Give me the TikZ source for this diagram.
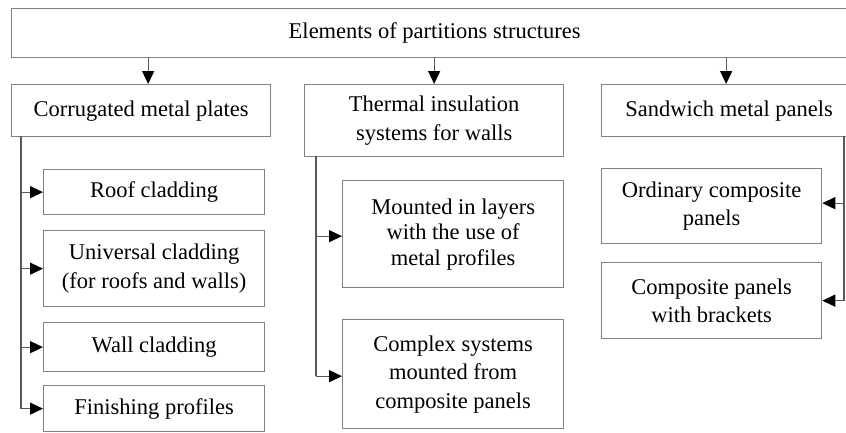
\documentclass[tikz,border=0pt]{standalone}
\usepackage{fontspec}
\setmainfont{Liberation Serif}
\usetikzlibrary{arrows.meta}

\begin{document}
\begin{tikzpicture}[x=1pt, y=-1pt, >={Triangle[length=13pt,width=12pt,color=black]},
  box/.style={draw=black!50, line width=1.3pt, anchor=north west, inner sep=0pt, align=center, font=\fontsize{22.5}{28.5}\selectfont},
  link/.style={draw=black!65, line width=1.3pt}]
  \useasboundingbox (0,0) rectangle (846,432);
  \clip (0,0) rectangle (846,432);
  \node[box, minimum width=846pt, minimum height=49pt] (elem) at (11,8) {Elements of partitions structures};
  % main groups
  \node[box, minimum width=259pt, minimum height=52pt] (corr) at (11,84) {Corrugated metal plates};
  \node[box, minimum width=259pt, minimum height=72pt] (therm) at (304,84) {Thermal insulation\\systems for walls};
  \node[box, minimum width=255pt, minimum height=52pt] (sand) at (601,84) {Sandwich metal panels};
  % corrugated metal plates
  \node[box, minimum width=221pt, minimum height=45pt] (roof) at (43,169) {Roof cladding};
  \node[box, minimum width=221pt, minimum height=76pt] (univ) at (43,230) {Universal cladding\\(for roofs and walls)};
  \node[box, minimum width=221pt, minimum height=49pt] (wall) at (43,322) {Wall cladding};
  \node[box, minimum width=221pt, minimum height=46pt] (fin) at (43,385) {Finishing profiles};
  % thermal insulation
  \node[box, minimum width=221pt, minimum height=107pt] (mount) at (342,180) {Mounted in layers\\[-3pt]with the use of\\[-3pt]metal profiles};
  \node[box, minimum width=221pt, minimum height=109pt] (cplx) at (342,319) {Complex systems\\mounted from\\composite panels};
  % sandwich panels
  \node[box, minimum width=220pt, minimum height=75pt] (ord) at (601,168) {Ordinary composite\\panels};
  \node[box, minimum width=220pt, minimum height=76pt] (brk) at (601,262) {Composite panels\\with brackets};

  \draw[link,->] ([xshift=7pt]corr.north |- elem.south) -- ([xshift=7pt]corr.north);
  \draw[link,->] (therm.north |- elem.south) -- (therm.north);
  \draw[link,->] ([xshift=-3pt]sand.north |- elem.south) -- ([xshift=-3pt]sand.north);

  \coordinate (ltrunk) at (21,136);
  \draw[link] (ltrunk) -- (ltrunk |- fin.west);
  \foreach \n in {roof,univ,wall,fin}
    \draw[link,->] (ltrunk |- \n.west) -- (\n.west);

  \coordinate (mtrunk) at (316,156);
  \draw[link] (mtrunk) -- ([yshift=-2pt]mtrunk |- cplx.west);
  \foreach \n in {mount,cplx}
    \draw[link,->] ([yshift=-2pt]mtrunk |- \n.west) -- ([yshift=-2pt]\n.west);

  \coordinate (rtrunk) at (844,136);
  \draw[link] (rtrunk) -- (rtrunk |- brk.east);
  \draw[link,->] ([yshift=3pt]rtrunk |- ord.east) -- ([yshift=3pt]ord.east);
  \draw[link,->] (rtrunk |- brk.east) -- (brk.east);
\end{tikzpicture}
\end{document}
